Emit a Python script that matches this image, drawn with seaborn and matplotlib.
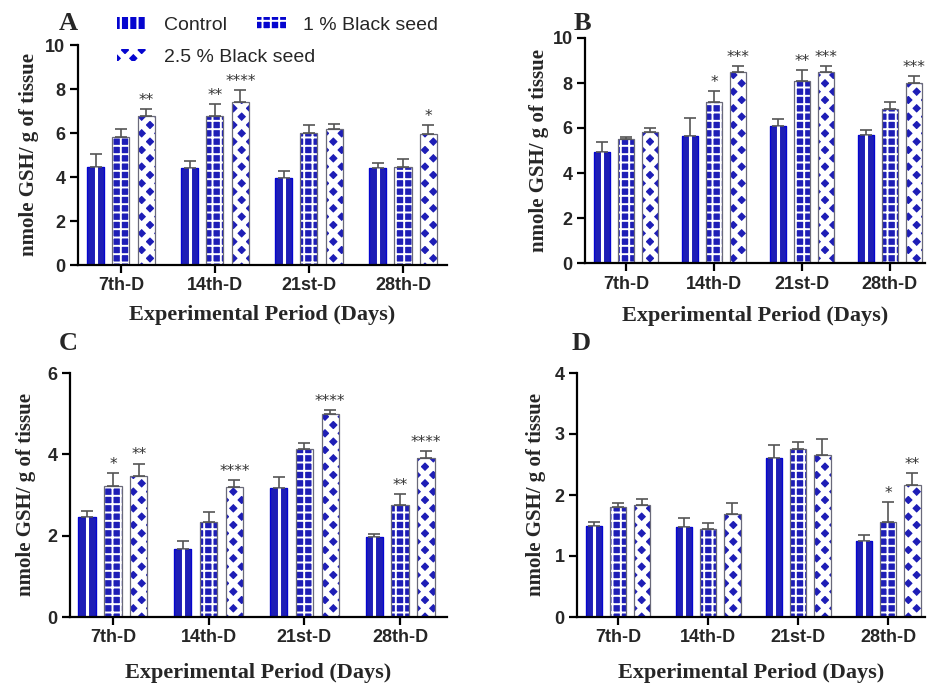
import numpy as np
import pandas as pd
import matplotlib.pyplot as plt
import matplotlib.patches as mpatches
import seaborn as sns

# -------------------------- data --------------------------
days = ['7th-D', '14th-D', '21st-D', '28th-D']
groups = ['Control', '1 % Black seed', '2.5 % Black seed']

# panel A
a_ctrl = [4.44, 4.42, 3.94, 4.39]
a_ctrl_err = [0.60, 0.32, 0.33, 0.26]
a_bs1 = [5.80, 6.77, 6.02, 4.44]
a_bs1_err = [0.40, 0.55, 0.35, 0.38]
a_bs25 = [6.77, 7.42, 6.17, 5.95]
a_bs25_err = [0.32, 0.53, 0.22, 0.41]
a_stars = [['', '', '', ''], ['', '**', '', ''], ['**', '****', '', '*']]

# panel B
b_ctrl = [4.92, 5.63, 6.10, 5.69]
b_ctrl_err = [0.44, 0.81, 0.30, 0.22]
b_bs1 = [5.51, 7.17, 8.09, 6.84]
b_bs1_err = [0.08, 0.47, 0.49, 0.30]
b_bs25 = [5.81, 8.47, 8.50, 8.00]
b_bs25_err = [0.19, 0.27, 0.24, 0.30]
b_stars = [['', '', '', ''], ['', '*', '**', ''], ['', '***', '***', '***']]

# panel C
c_ctrl = [2.45, 1.68, 3.18, 1.97]
c_ctrl_err = [0.16, 0.18, 0.26, 0.08]
c_bs1 = [3.23, 2.33, 4.13, 2.76]
c_bs1_err = [0.30, 0.26, 0.14, 0.26]
c_bs25 = [3.47, 3.20, 5.00, 3.91]
c_bs25_err = [0.30, 0.17, 0.08, 0.17]
c_stars = [['', '', '', ''], ['*', '', '', '**'], ['**', '****', '****', '****']]

# panel D
d_ctrl = [1.49, 1.48, 2.61, 1.25]
d_ctrl_err = [0.06, 0.14, 0.21, 0.10]
d_bs1 = [1.80, 1.44, 2.75, 1.56]
d_bs1_err = [0.07, 0.10, 0.12, 0.32]
d_bs25 = [1.84, 1.69, 2.65, 2.17]
d_bs25_err = [0.10, 0.18, 0.27, 0.19]
d_stars = [['', '', '', ''], ['', '', '', '*'], ['', '', '', '**']]

# -------------------------- style --------------------------
sns.set_theme(style='ticks')
plt.rcParams['font.family'] = ['Liberation Sans', 'DejaVu Sans']
plt.rcParams['hatch.linewidth'] = 1.6

BLUE = '#0505cf'
SERIF = ['Liberation Serif', 'DejaVu Serif']
HATCH_LW = {'++': 1.4, 'xx': 4.0, '||': 1.6}

fig = plt.figure(figsize=(9.27, 6.84), dpi=100)
W, H = 927, 684


def add_axes_px(left, right, top, bottom):
    return fig.add_axes([left / W, 1 - bottom / H, (right - left) / W, (bottom - top) / H])


def set_pattern(p, hatch):
    p.set_edgecolor('white')
    p.set_hatch(hatch)
    p.set_linewidth(0)
    if hasattr(p, 'set_hatch_linewidth'):
        p.set_hatch_linewidth(HATCH_LW[hatch])


def draw_panel(ax, means, errs, stars, ymax, ystep, xlim, letter, letter_xy, ylab_x, xlab_y):
    df = pd.DataFrame({
        'day': days * 3,
        'group': np.repeat(groups, 4),
        'value': np.concatenate(means),
    })
    sns.barplot(data=df, x='day', y='value', hue='group', order=days, hue_order=groups,
                palette=[BLUE] * 3, width=0.81, gap=0.33, errorbar=None, legend=False,
                linewidth=0, ax=ax)
    conts = list(ax.containers[:3])

    # patterns: control solid with a white stripe, 1% white grid, 2.5% white diagonal lattice
    for p in conts[0]:
        p.set_edgecolor(BLUE)
        p.set_linewidth(0.8)
        cx = p.get_x() + p.get_width() / 2
        ax.vlines(cx, 0, p.get_height(), color='white', lw=2.2, zorder=2.5)
    for p in conts[1]:
        set_pattern(p, '++')
    for p in conts[2]:
        set_pattern(p, 'xx')

    # thin grey outline on top of the patterned bars
    sns.barplot(data=df, x='day', y='value', hue='group', order=days, hue_order=groups,
                palette=[BLUE, '#6a6a7a', '#6a6a7a'], width=0.81, gap=0.33, errorbar=None,
                legend=False, fill=False, linewidth=0.9, ax=ax)

    # error bars (upper only) and significance stars
    for cont, err, st in zip(conts, errs, stars):
        xs = [p.get_x() + p.get_width() / 2 for p in cont]
        ys = [p.get_height() for p in cont]
        ax.errorbar(xs, ys, yerr=[np.zeros(len(err)), err], fmt='none', ecolor='#555555',
                    elinewidth=1.2, capsize=4, capthick=1.2, zorder=1)
        for x, y, e, s in zip(xs, ys, err, st):
            if s:
                ax.annotate(s, (x, y + e), xytext=(0, 1), textcoords='offset points',
                            ha='center', va='bottom', fontsize=11, color='#333333',
                            family=['DejaVu Sans'])

    ax.set_ylim(0, ymax)
    ax.set_yticks(np.arange(0, ymax + 0.01, ystep))
    ax.set_xlim(*xlim)
    sns.despine(ax=ax)
    for side in ['left', 'bottom']:
        ax.spines[side].set_linewidth(1.6)
        ax.spines[side].set_color('black')
    ax.tick_params(axis='both', labelsize=13, width=1.6, length=6, color='black', pad=3)
    plt.setp(ax.get_xticklabels(), fontweight='bold')
    plt.setp(ax.get_yticklabels(), fontweight='bold')

    ax.set_xlabel('Experimental Period (Days)', fontsize=16, fontweight='bold', family=SERIF)
    ax.set_ylabel('nmole GSH/ g of tissue', fontsize=15, fontweight='bold', family=SERIF)
    ax.xaxis.set_label_coords(0.5, xlab_y)
    ax.yaxis.set_label_coords(ylab_x, 0.5)

    fig.text(letter_xy[0] / W, 1 - letter_xy[1] / H, letter, fontsize=19, fontweight='bold',
             family=SERIF, ha='center', va='center')


axA = add_axes_px(78, 447, 45, 265)
draw_panel(axA, [a_ctrl, a_bs1, a_bs25], [a_ctrl_err, a_bs1_err, a_bs25_err], a_stars,
           10, 2, (-0.457, 3.468), 'A', (68, 24), -0.105, -0.18)

axB = add_axes_px(585, 925, 38, 263)
draw_panel(axB, [b_ctrl, b_bs1, b_bs25], [b_ctrl_err, b_bs1_err, b_bs25_err], b_stars,
           10, 2, (-0.466, 3.40), 'B', (582, 24), -0.105, -0.19)

axC = add_axes_px(70, 447, 373, 617)
draw_panel(axC, [c_ctrl, c_bs1, c_bs25], [c_ctrl_err, c_bs1_err, c_bs25_err], c_stars,
           6, 2, (-0.448, 3.49), 'C', (68, 344), -0.09, -0.19)

axD = add_axes_px(577, 925, 373, 617)
draw_panel(axD, [d_ctrl, d_bs1, d_bs25], [d_ctrl_err, d_bs1_err, d_bs25_err], d_stars,
           4, 1, (-0.456, 3.41), 'D', (581, 344), -0.09, -0.19)


# legend at the top of panel A: Control and 1 % on the first row, 2.5 % below
def legend_patch(hatch):
    p = mpatches.Patch(facecolor=BLUE)
    set_pattern(p, hatch)
    return p


leg_kw = dict(loc='upper left', frameon=False, fontsize=14, handlelength=1.5,
              handleheight=0.55, handletextpad=0.9, columnspacing=1.55,
              borderpad=0, borderaxespad=0)
leg1 = fig.legend([legend_patch('||'), legend_patch('++')], groups[:2], ncol=2,
                  bbox_to_anchor=(117 / W, 1 - 17 / H), **leg_kw)
leg2 = fig.legend([legend_patch('xx')], groups[2:], ncol=1,
                  bbox_to_anchor=(117 / W, 1 - 49 / H), **leg_kw)
# the legend copies do not keep the per-patch hatch width, so set it again
for handle, hatch in zip(list(leg1.legend_handles) + list(leg2.legend_handles), ['||', '++', 'xx']):
    set_pattern(handle, hatch)

fig.savefig('out.png', dpi=100, facecolor='white')
